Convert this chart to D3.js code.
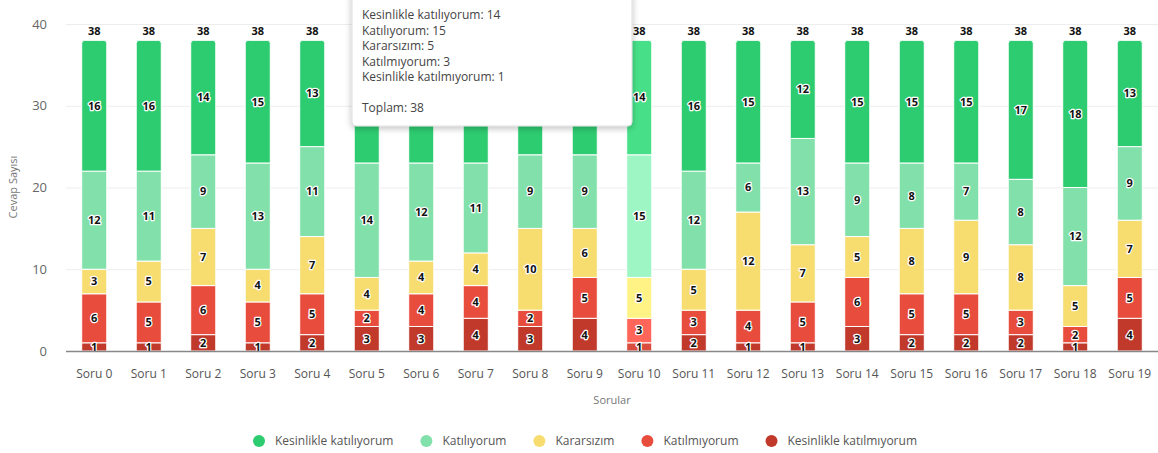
<!DOCTYPE html>
<html>
<head>
<meta charset="utf-8">
<script src="https://cdn.jsdelivr.net/npm/d3@7"></script>
<style>
  body { margin: 0; background: #fff; }
  svg { display: block; font-family: "Open Sans", sans-serif; }
</style>
</head>
<body>
<div id="grafik"></div>
<script>
// Veriler
var sorular = ["Soru 0","Soru 1","Soru 2","Soru 3","Soru 4","Soru 5","Soru 6","Soru 7","Soru 8","Soru 9",
  "Soru 10","Soru 11","Soru 12","Soru 13","Soru 14","Soru 15","Soru 16","Soru 17","Soru 18","Soru 19"];
var seriler = ["Kesinlikle katılıyorum","Katılıyorum","Kararsızım","Katılmıyorum","Kesinlikle katılmıyorum"];
var kesinlikleKatiliyorum  = [16,16,14,15,13,15,15,15,14,14,14,16,15,12,15,15,15,17,18,13];
var katiliyorum            = [12,11, 9,13,11,14,12,11, 9, 9,15,12, 6,13, 9, 8, 7, 8,12, 9];
var kararsizim             = [ 3, 5, 7, 4, 7, 4, 4, 4,10, 6, 5, 5,12, 7, 5, 8, 9, 8, 5, 7];
var katilmiyorum           = [ 6, 5, 6, 5, 5, 2, 4, 4, 2, 5, 3, 3, 4, 5, 6, 5, 5, 3, 2, 5];
var kesinlikleKatilmiyorum = [ 1, 1, 2, 1, 2, 3, 3, 4, 3, 4, 1, 2, 1, 1, 3, 2, 2, 2, 1, 4];
var yTikler = [0, 10, 20, 30, 40];
var seciliSoru = "Soru 10";

var renkler = ["#2ecc71","#82e0aa","#f7dc6f","#e74c3c","#c0392b"];
var acikRenkler = ["#47e088","#9df6c3","#fff386","#ff6659","#d94c3e"];

var ancho = 1158, alto = 453;
var svg = d3.select("#grafik").append("svg")
  .attr("width", ancho).attr("height", alto);

// tablo
var degerler = [kesinlikleKatiliyorum, katiliyorum, kararsizim, katilmiyorum, kesinlikleKatilmiyorum];
var tablo = sorular.map(function(s, i){
  var o = {soru: s};
  seriler.forEach(function(k, j){ o[k] = degerler[j][i]; });
  o.toplam = d3.sum(degerler, function(v){ return v[i]; });
  return o;
});

// yığın: alttan üste
var stack = d3.stack().keys(seriler.slice().reverse());
var katmanlar = stack(tablo);

var x = d3.scaleBand().domain(sorular).range([67, 1157]).paddingInner(0.54).paddingOuter(0.27);
var y = d3.scaleLinear().domain([0, 40]).range([351, 24]);
var renk = d3.scaleOrdinal().domain(seriler).range(renkler);
var acikRenk = d3.scaleOrdinal().domain(seriler).range(acikRenkler);

// grid
svg.append("g").selectAll("line").data(yTikler.slice(1)).enter().append("line")
  .attr("x1", 66).attr("x2", 1158)
  .attr("y1", function(d){ return y(d) + 0.5; }).attr("y2", function(d){ return y(d) + 0.5; })
  .attr("stroke", "#ededed").attr("stroke-width", 1);

// eje Y
var ejeY = svg.append("g").attr("transform", "translate(47,0)")
  .call(d3.axisLeft(y).tickValues(yTikler).tickSize(0).tickPadding(0));
ejeY.select(".domain").remove();
ejeY.selectAll("text").attr("fill", "#666").attr("font-size", "13px")
  .attr("font-family", "Open Sans, sans-serif");

svg.append("text").text("Cevap Sayısı")
  .attr("transform", "translate(17,187) rotate(-90)")
  .attr("text-anchor", "middle").attr("font-size", "11px").attr("fill", "#777");

// barras
function yol(x0, y0, w, h, r){
  r = Math.min(r, h);
  return "M" + x0 + "," + (y0 + h) + "V" + (y0 + r) + "Q" + x0 + "," + y0 + " " + (x0 + r) + "," + y0 +
    "H" + (x0 + w - r) + "Q" + (x0 + w) + "," + y0 + " " + (x0 + w) + "," + (y0 + r) + "V" + (y0 + h) + "Z";
}
var ustSeri = seriler[0];
katmanlar.forEach(function(katman){
  var g = svg.append("g");
  g.selectAll("path").data(katman).enter().append("path")
    .attr("d", function(d){
      var y0 = y(d[1]), h = y(d[0]) - y(d[1]);
      return yol(x(d.data.soru), y0, x.bandwidth(), h, katman.key === ustSeri ? 3 : 0);
    })
    .attr("fill", function(d){ return d.data.soru === seciliSoru ? acikRenk(katman.key) : renk(katman.key); })
    .attr("stroke", "#fff").attr("stroke-width", 1);
});

// etiquetas de segmentos
katmanlar.forEach(function(katman){
  svg.append("g").selectAll("text").data(katman).enter().append("text")
    .text(function(d){ return d[1] - d[0]; })
    .attr("x", function(d){ return x(d.data.soru) + x.bandwidth() / 2; })
    .attr("y", function(d){ return (y(d[0]) + y(d[1])) / 2; })
    .attr("dy", "0.35em")
    .attr("text-anchor", "middle").attr("font-size", "11px").attr("font-weight", "bold")
    .attr("fill", "#111").attr("stroke", "#fff").attr("stroke-width", 2.5)
    .attr("paint-order", "stroke").attr("stroke-linejoin", "round");
});

// toplamlar
svg.append("g").selectAll("text").data(tablo).enter().append("text")
  .text(function(d){ return d.toplam; })
  .attr("x", function(d){ return x(d.soru) + x.bandwidth() / 2; })
  .attr("y", function(d){ return y(d.toplam) - 5; })
  .attr("text-anchor", "middle").attr("font-size", "11px").attr("font-weight", "bold")
  .attr("fill", "#111").attr("stroke", "#fff").attr("stroke-width", 2.5)
  .attr("paint-order", "stroke").attr("stroke-linejoin", "round");

// eje X
var ejeX = svg.append("g").attr("transform", "translate(0,351)")
  .call(d3.axisBottom(x).tickSize(0).tickPadding(18));
ejeX.select(".domain").attr("d", "M66,0.5H1158").attr("stroke", "#888").attr("stroke-width", 1.5);
ejeX.selectAll("text").attr("fill", "#555").attr("font-size", "12px")
  .attr("font-family", "Open Sans, sans-serif");

svg.append("text").text("Sorular")
  .attr("x", 612).attr("y", 404).attr("text-anchor", "middle")
  .attr("font-size", "11px").attr("fill", "#777");

// leyenda
var leyenda = svg.append("g");
var ox = 0;
var items = leyenda.selectAll("g").data(seriler).enter().append("g");
items.append("circle").attr("r", 6).attr("cy", 0).attr("fill", function(d){ return renk(d); });
items.append("text").text(function(d){ return d; })
  .attr("x", 16).attr("dy", "0.35em").attr("font-size", "12px").attr("fill", "#555");
items.each(function(){
  var w = this.getBBox().width;
  d3.select(this).attr("transform", "translate(" + (ox + 6) + ",0)");
  ox += w + 27;
});
ox -= 27;
leyenda.attr("transform", "translate(" + (585 - ox / 2) + ",441)");

// tooltip (Soru 10)
var defs = svg.append("defs");
var f = defs.append("filter").attr("id", "golge").attr("x", "-20%").attr("y", "-20%").attr("width", "140%").attr("height", "140%");
f.append("feDropShadow").attr("dx", 0).attr("dy", 2).attr("stdDeviation", 3).attr("flood-color", "#000").attr("flood-opacity", 0.25);

var secili = tablo[sorular.indexOf(seciliSoru)];
var tip = svg.append("g").attr("transform", "translate(352,-10)");
tip.append("rect").attr("width", 280).attr("height", 136).attr("rx", 4)
  .attr("fill", "#fff").attr("stroke", "#ddd").attr("filter", "url(#golge)");
var satirlar = seriler.map(function(k){ return k + ": " + secili[k]; });
tip.selectAll("text.satir").data(satirlar).enter().append("text")
  .attr("class", "satir")
  .text(function(d){ return d; })
  .attr("x", 10).attr("y", function(d, i){ return 29 + i * 15.5; })
  .attr("font-size", "12px").attr("fill", "#444");
tip.append("text").text("Toplam: " + secili.toplam)
  .attr("x", 10).attr("y", 122).attr("font-size", "12px").attr("fill", "#444");
</script>
</body>
</html>
